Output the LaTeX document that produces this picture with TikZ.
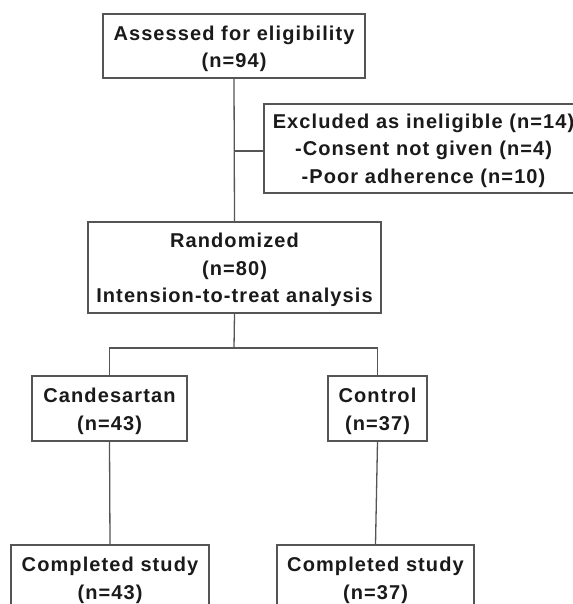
\documentclass[tikz,border=0pt]{standalone}
\usepackage{fontspec}
\setmainfont{Liberation Sans}[LetterSpace=5.5]
\begin{document}
\begin{tikzpicture}[x=1pt,y=-1pt,
  box/.style={draw=linegray,line width=1.3pt,fill=white,inner sep=0pt},
  txt/.style={align=center,inner sep=0pt,
    font=\fontsize{20}{27.5}\selectfont\bfseries,text=textblack},
  conn/.style={draw=linegray,line width=1.3pt}]
\definecolor{linegray}{HTML}{555555}
\definecolor{textblack}{HTML}{1A1A1A}
\useasboundingbox (0,0) rectangle (572,604);
\node[box,minimum width=262pt,minimum height=64pt] (assess) at (234,46) {};
\node[txt] (assess-t) at ([yshift=-3pt]assess.center) {Assessed for eligibility\\(n=94)};
\node[box,minimum width=319pt,minimum height=89pt] (excl) at (423.5,148.5) {};
\node[txt] (excl-t) at ([yshift=-2pt]excl.center) {Excluded as ineligible (n=14)\\-Consent not given (n=4)\\-Poor adherence (n=10)};
\node[box,minimum width=293pt,minimum height=91pt] (rand) at (234.5,267.5) {};
\node[txt] (rand-t) at ([yshift=-2.5pt]rand.center) {Randomized\\(n=80)\\Intension-to-treat analysis};
\node[box,minimum width=155pt,minimum height=65pt] (cand) at (109.5,408.5) {};
\node[txt] (cand-t) at ([yshift=-3pt]cand.center) {Candesartan\\(n=43)};
\node[box,minimum width=99pt,minimum height=65pt] (ctrl) at (377.5,408.5) {};
\node[txt] (ctrl-t) at ([yshift=-3pt]ctrl.center) {Control\\(n=37)};
\node[box,minimum width=198pt,minimum height=65pt] (comp1) at (110,577.5) {};
\node[txt] (comp1-t) at ([yshift=-3pt]comp1.center) {Completed study\\(n=43)};
\node[box,minimum width=197pt,minimum height=65pt] (comp2) at (375.5,577.5) {};
\node[txt] (comp2-t) at ([yshift=-3pt]comp2.center) {Completed study\\(n=37)};
\coordinate (br) at (234,151);
\coordinate (split) at (234,348);
\draw[conn] (assess.south) -- (rand.north);
\draw[conn] (br) -- (excl.west |- br);
\draw[conn] (rand.south) -- (split);
\draw[conn] (cand.north) |- (split) -| (ctrl.north);
\draw[conn] (cand.south) -- (comp1.north);
\draw[conn] (ctrl.south) -- (comp2.north);
\end{tikzpicture}
\end{document}
